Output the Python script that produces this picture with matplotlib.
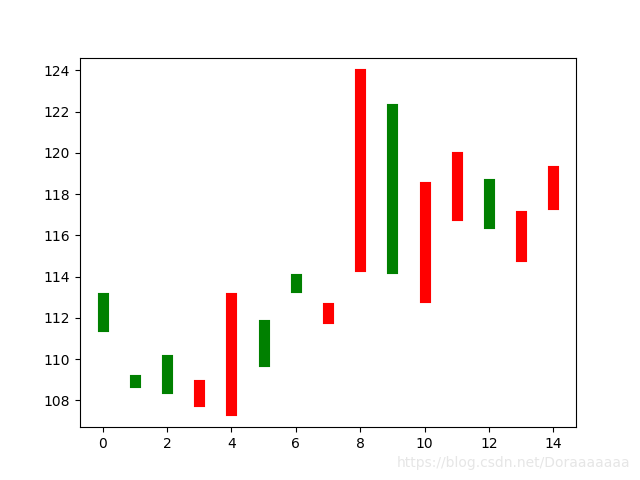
import matplotlib
matplotlib.use('Agg')
import matplotlib.pyplot as plt

days = list(range(15))
low = [111.59, 108.87, 108.58, 107.99, 107.51, 109.89, 113.48, 111.98,
       114.50, 114.41, 113.00, 116.98, 116.59, 114.99, 117.52]
high = [112.98, 108.99, 109.97, 108.75, 112.98, 111.67, 113.90, 112.49,
        123.81, 122.11, 118.37, 119.78, 118.47, 116.96, 119.10]
colors = ['g', 'g', 'g', 'r', 'r', 'g', 'g', 'r',
          'r', 'g', 'r', 'r', 'g', 'r', 'r']

fig, ax = plt.subplots(figsize=(6.4, 4.8), dpi=100)

for d, lo, hi, c in zip(days, low, high, colors):
    ax.plot([d, d], [lo, hi], color=c, lw=8)

fig.text(0.985, 0.035, 'https://blog.csdn.net/Doraaaaaaa', ha='right',
         va='center', fontsize=10, color='#e6e6e6')

fig.savefig('out.png')
